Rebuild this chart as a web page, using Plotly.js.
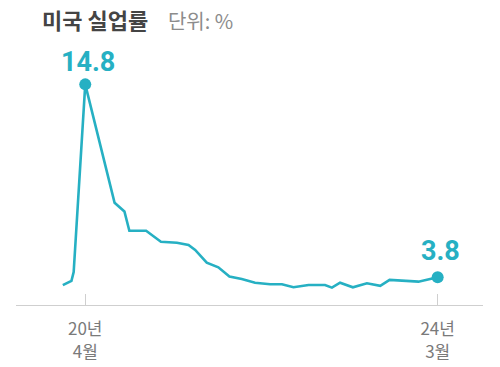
<!DOCTYPE html>
<html>
<head>
<meta charset="utf-8">
<script src="https://cdn.plot.ly/plotly-3.0.1.min.js"></script>
<style>html,body{margin:0;padding:0;background:#fff;}#chart{width:500px;height:367px;}</style>
</head>
<body>
<div id="chart"></div>
<script>
// Unemployment rate (%)
const dates = ['2020-01-01','2020-02-05','2020-02-14','2020-04-01','2020-07-29','2020-09-07','2020-09-27','2020-12-04',
  '2021-02-02','2021-04-08','2021-05-25','2021-06-21','2021-08-07','2021-09-23','2021-11-07','2021-12-27',
  '2022-02-19','2022-04-21','2022-06-08','2022-07-25','2022-09-24','2022-11-30','2022-12-28',
  '2023-01-30','2023-03-23','2023-05-19','2023-07-12','2023-08-19','2023-12-14','2024-03-01'];
const rates = [3.35,3.6,4.1,14.8,8.05,7.55,6.45,6.45,
  5.83,5.77,5.64,5.36,4.63,4.37,3.84,3.70,
  3.49,3.40,3.40,3.23,3.36,3.36,3.21,
  3.49,3.23,3.46,3.31,3.65,3.55,3.8];
const highlightIdx = [3, 29];
const tickDates = ['2020-04-01','2024-03-01'];
const tickLabels = ['20년<br>4월','24년<br>3월'];

const teal = '#26b0c3';
const font = '"Noto Sans CJK KR", "Noto Sans", sans-serif';
const numFont = 'Roboto, "Noto Sans", sans-serif';
const labelShift = [22, 26];

const traces = [
  {x: dates, y: rates, type: 'scatter', mode: 'lines',
   line: {color: teal, width: 2.6}, hoverinfo: 'skip'},
  {x: highlightIdx.map(i => dates[i]), y: highlightIdx.map(i => rates[i]),
   type: 'scatter', mode: 'markers', marker: {color: teal, size: 12}, hoverinfo: 'skip'}
];

const annotations = highlightIdx.map((i, k) => ({
  x: dates[i], y: rates[i], xref: 'x', yref: 'y',
  text: '<b>' + rates[i].toFixed(1) + '</b>', showarrow: false,
  font: {family: numFont, size: 27, color: teal}, yshift: labelShift[k], xshift: 3
}));
annotations.push({
  xref: 'paper', yref: 'paper', x: 24/467, y: 1, xanchor: 'left', yanchor: 'middle',
  text: '<b>미국 실업률</b>    <span style="color:#8c8c8c;font-size:20px">단위: %</span>',
  showarrow: false, font: {family: font, size: 22, color: '#444444'}, yshift: 11
});

const layout = {
  width: 500, height: 367,
  margin: {l: 16, r: 17, t: 30, b: 62},
  paper_bgcolor: '#ffffff', plot_bgcolor: '#ffffff',
  showlegend: false,
  font: {family: font},
  xaxis: {
    type: 'date', range: ['2019-06-25', '2024-09-01'],
    showgrid: false, zeroline: false,
    showline: true, linecolor: '#cfcfcf', linewidth: 1,
    tickmode: 'array', tickvals: tickDates, ticktext: tickLabels,
    ticks: 'inside', ticklen: 11, tickcolor: '#cfcfcf', tickwidth: 1,
    tickfont: {family: font, size: 17, color: '#7a7a7a'},
    ticklabelstandoff: 9
  },
  yaxis: {
    range: [2.22, 17.9], visible: false, showgrid: false, zeroline: false
  },
  annotations: annotations
};

Plotly.newPlot('chart', traces, layout, {staticPlot: true, displayModeBar: false});
</script>
</body>
</html>
